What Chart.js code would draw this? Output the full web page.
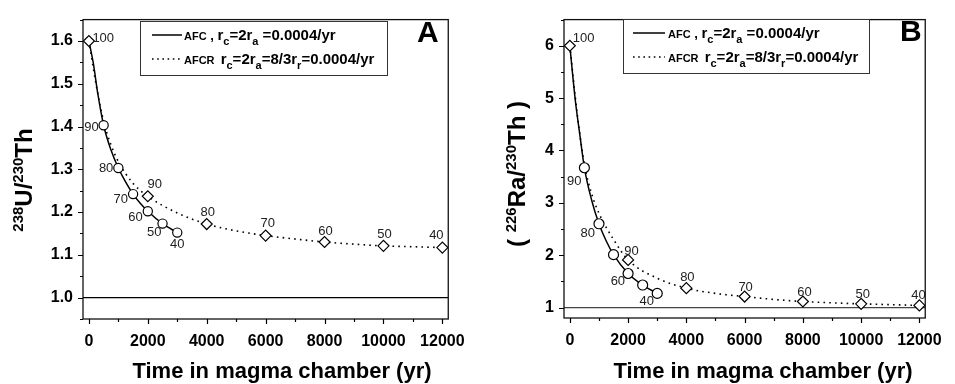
<!DOCTYPE html>
<html><head><meta charset="utf-8">
<script src="https://cdn.jsdelivr.net/npm/chart.js@4.4.0/dist/chart.umd.min.js"></script>
<style>
html,body{margin:0;padding:0;background:#fff;overflow:hidden;}
#wrap{position:relative;width:955px;height:384px;background:#fff;}
canvas{position:absolute;top:0;}
#cA{left:0;} #cB{left:478px;}
</style></head><body>
<div id="wrap"><canvas id="cA" width="478" height="384"></canvas><canvas id="cB" width="477" height="384"></canvas></div>
<script>
// ---------------- data ----------------
const xTicks = [0, 2000, 4000, 6000, 8000, 10000, 12000];
const yTicksA = [1.0, 1.1, 1.2, 1.3, 1.4, 1.5, 1.6];
const yTicksB = [1, 2, 3, 4, 5, 6];

// markers (AFC circles, AFCR diamonds)
const afcTime = [0, 500, 1000, 1500, 2000, 2500, 3000];
const afcU = [1.6, 1.403, 1.303, 1.242, 1.202, 1.173, 1.152];
const afcRa = [6.0, 3.67, 2.60, 2.01, 1.65, 1.43, 1.27];
const afcLabelsA = ['100', '90', '80', '70', '60', '50', '40'];
const afcLabelsB = ['100', '90', '80', '', '60', '', '40'];

const afcrTime = [0, 2000, 4000, 6000, 8000, 10000, 12000];
const afcrU = [1.6, 1.237, 1.172, 1.145, 1.13, 1.121, 1.117];
const afcrRa = [6.0, 1.91, 1.37, 1.21, 1.115, 1.07, 1.04];
const afcrLabels = ['', '90', '80', '70', '60', '50', '40'];

// model curves
const afcCurveTimeA = [0, 150, 300, 500, 750, 1000, 1250, 1500, 1750, 2000, 2500, 3000];
const afcCurveU = [1.6, 1.548, 1.478, 1.403, 1.345, 1.303, 1.27, 1.242, 1.22, 1.202, 1.173, 1.152];
const afcCurveTimeB = [0, 190, 334, 500, 750, 1000, 1250, 1500, 2000, 2500, 3000];
const afcCurveRa = [6.0, 4.95, 4.34, 3.67, 3.05, 2.60, 2.27, 2.01, 1.65, 1.43, 1.27];

const afcrCurveTime = [0, 250, 500, 750, 1000, 1500, 2000, 3000, 4000, 5000, 6000, 7000, 8000, 9000, 10000, 11000, 12000];
const afcrCurveU = [1.6, 1.496, 1.412, 1.357, 1.318, 1.267, 1.237, 1.198, 1.172, 1.156, 1.145, 1.137, 1.13, 1.125, 1.121, 1.119, 1.117];
const afcrCurveRa = [6.0, 4.72, 3.74, 3.17, 2.80, 2.30, 1.91, 1.56, 1.37, 1.27, 1.21, 1.155, 1.115, 1.09, 1.07, 1.055, 1.04];

// reference line (secular equilibrium)
const refTime = [-200, 12200];
const refValue = [1, 1];

// ---------------- styling ----------------
const FONT = "'Liberation Sans', Arial, Helvetica, sans-serif";
const pts = (xs, ys) => xs.map((v, i) => ({x: v, y: ys[i]}));

function drawRich(ctx, x, y, parts) {
  for (const p of parts) {
    ctx.font = `bold ${p.s}px ${FONT}`;
    ctx.fillText(p.t, x, y + (p.dy || 0));
    x += ctx.measureText(p.t).width;
  }
}
function richWidth(ctx, parts) {
  let w = 0;
  for (const p of parts) { ctx.font = `bold ${p.s}px ${FONT}`; w += ctx.measureText(p.t).width; }
  return w;
}

const legendRow1 = [
  {t: 'AFC', s: 11}, {t: ' , ', s: 13}, {t: 'r', s: 15}, {t: 'c', s: 11, dy: 5},
  {t: '=2r', s: 15}, {t: 'a', s: 11, dy: 5}, {t: ' =0.0004/yr', s: 15}
];
const legendRow2 = [
  {t: 'AFCR', s: 11}, {t: '  ', s: 11}, {t: 'r', s: 15}, {t: 'c', s: 11, dy: 5},
  {t: '=2r', s: 15}, {t: 'a', s: 11, dy: 5}, {t: '=8/3r', s: 15}, {t: 'r', s: 11, dy: 5},
  {t: '=0.0004/yr', s: 15}
];

const panelPlugin = {
  id: 'panel',
  afterDatasetsDraw(chart, args, o) {
    const ctx = chart.ctx;
    ctx.save();
    ctx.fillStyle = '#222';
    ctx.font = `13px ${FONT}`;
    ctx.textBaseline = 'middle';
    for (const L of o.labels) {
      const meta = chart.getDatasetMeta(L.ds);
      L.text.forEach((t, i) => {
        if (!t || !L.off[i]) return;
        const el = meta.data[i];
        ctx.textAlign = L.off[i][2];
        ctx.fillText(t, el.x + L.off[i][0], el.y + L.off[i][1]);
      });
    }
    ctx.restore();
  },
  afterDraw(chart, args, o) {
    const {ctx, chartArea: a, scales: {x, y}} = chart;
    ctx.save();
    // frame
    ctx.strokeStyle = '#111'; ctx.lineWidth = 1.3;
    ctx.strokeRect(a.left, a.top, a.right - a.left, a.bottom - a.top);
    // ticks
    ctx.lineWidth = 1.2; ctx.strokeStyle = '#000';
    ctx.beginPath();
    for (let v = 0; v <= 12000; v += 1000) {
      const px = Math.round(x.getPixelForValue(v)) + 0.5;
      const len = v % 2000 === 0 ? 5 : 3;
      ctx.moveTo(px, a.bottom); ctx.lineTo(px, a.bottom + len);
    }
    for (let k = 0; ; k++) {
      const v = o.yMinorStart + k * o.yMinorStep;
      if (v > y.max + 1e-9) break;
      if (v < y.min - 1e-9) continue;
      const py = Math.round(y.getPixelForValue(v)) + 0.5;
      const major = Math.abs(Math.round(v / o.yMajorStep) * o.yMajorStep - v) < 1e-6;
      const len = major ? 5 : 3;
      ctx.moveTo(a.left, py); ctx.lineTo(a.left - len, py);
    }
    ctx.stroke();

    // legend box
    const lg = o.legend;
    ctx.fillStyle = '#fff';
    ctx.fillRect(lg.x, lg.y, lg.w, lg.h);
    ctx.strokeStyle = '#333'; ctx.lineWidth = 1;
    ctx.strokeRect(lg.x + 0.5, lg.y + 0.5, lg.w, lg.h);
    ctx.strokeStyle = '#000'; ctx.lineWidth = 1.5;
    ctx.beginPath(); ctx.moveTo(lg.lx0, lg.r1); ctx.lineTo(lg.lx1, lg.r1); ctx.stroke();
    ctx.setLineDash([1.6, 3.6]);
    ctx.beginPath(); ctx.moveTo(lg.lx0, lg.r2); ctx.lineTo(lg.lx1, lg.r2); ctx.stroke();
    ctx.setLineDash([]);
    ctx.fillStyle = '#000'; ctx.textAlign = 'left'; ctx.textBaseline = 'alphabetic';
    drawRich(ctx, lg.tx, lg.b1, legendRow1);
    drawRich(ctx, lg.tx, lg.b2, legendRow2);

    // panel letter
    ctx.font = `bold 30px ${FONT}`;
    ctx.fillText(o.letter, o.letterX, o.letterY);

    // x title
    ctx.font = `bold 22px ${FONT}`;
    ctx.textAlign = 'center';
    ctx.fillText('Time in magma chamber (yr)', o.xTitleX, 378);

    // y title (rotated, with superscripts)
    ctx.textAlign = 'left';
    const w = richWidth(ctx, o.yTitle);
    ctx.translate(o.yTitleBase, o.yTitleCenter);
    ctx.rotate(-Math.PI / 2);
    drawRich(ctx, -w / 2, 0, o.yTitle);
    ctx.restore();
  }
};

function makeChart(id, cfg) {
  const tickFont = {family: FONT, size: 16, weight: 'bold'};
  return new Chart(document.getElementById(id), {
    type: 'scatter',
    data: {
      datasets: [
        { data: pts(afcrTime, cfg.afcrY), showLine: false, pointStyle: 'rectRot', pointRadius: 5.5,
          pointBackgroundColor: '#fff', pointBorderColor: '#000', pointBorderWidth: 1.2 },
        { data: pts(afcTime, cfg.afcY), showLine: false, pointStyle: 'circle',
          pointRadius: (c) => c.dataIndex === 0 ? 0 : cfg.circleR,
          pointBackgroundColor: '#fff', pointBorderColor: '#000', pointBorderWidth: 1.2 },
        { data: pts(cfg.afcCurveX, cfg.afcCurveY), showLine: true, pointRadius: 0, borderColor: '#000',
          borderWidth: 1.5, cubicInterpolationMode: 'monotone' },
        { data: pts(afcrCurveTime, cfg.afcrCurveY), showLine: true, pointRadius: 0, borderColor: '#000',
          borderWidth: 1.6, borderDash: [1.6, 4.2], cubicInterpolationMode: 'monotone' },
        { data: pts(refTime, refValue), showLine: true, pointRadius: 0, borderColor: cfg.refColor, borderWidth: 1.3 }
      ]
    },
    options: {
      responsive: false, animation: false, events: [],
      layout: {padding: {left: 0, right: cfg.padR, top: 7, bottom: 0}},
      plugins: {
        legend: {display: false}, tooltip: {enabled: false},
        panel: cfg.panel
      },
      scales: {
        x: {
          type: 'linear', min: -200, max: 12200,
          afterBuildTicks: (s) => { s.ticks = xTicks.map(v => ({value: v})); },
          afterFit: (s) => { s.height = cfg.xH; },
          grid: {display: false, drawTicks: false}, border: {display: false},
          ticks: {font: tickFont, color: '#000', padding: 13, maxRotation: 0, autoSkip: false,
                  callback: (v) => String(v)}
        },
        y: {
          type: 'linear', min: cfg.yMin, max: cfg.yMax,
          afterBuildTicks: (s) => { s.ticks = cfg.yTicks.map(v => ({value: v})); },
          afterFit: (s) => { s.width = cfg.yW; },
          grid: {display: false, drawTicks: false}, border: {display: false},
          ticks: {font: tickFont, color: '#000', padding: 10, autoSkip: false,
                  callback: (v) => cfg.fmt(v)}
        }
      }
    },
    plugins: [panelPlugin]
  });
}

makeChart('cA', {
  afcY: afcU, afcrY: afcrU, afcCurveX: afcCurveTimeA, afcCurveY: afcCurveU, afcrCurveY: afcrCurveU,
  yMin: 0.95, yMax: 1.65, yTicks: yTicksA, fmt: (v) => v.toFixed(1),
  yW: 83, xH: 65, padR: 24, circleR: 4.6, refColor: '#000',
  panel: {
    yMinorStart: 0.95, yMinorStep: 0.05, yMajorStep: 0.1,
    letter: 'A', letterX: 417, letterY: 42, xTitleX: 282,
    yTitle: [{t: '238', s: 15, dy: -9}, {t: 'U/', s: 24}, {t: '230', s: 15, dy: -9}, {t: 'Th', s: 24}],
    yTitleBase: 32, yTitleCenter: 180,
    legend: {x: 140, y: 21, w: 247, h: 54, lx0: 152, lx1: 182, r1: 35, r2: 59, tx: 184, b1: 40, b2: 64},
    labels: [
      {ds: 1, text: afcLabelsA, off: [[3.5, -3, 'left'], [-5, 2, 'right'], [-5, 0, 'right'], [-5, 5, 'right'],
                                     [-5, 6, 'right'], [-1, 9, 'right'], [0, 12, 'center']]},
      {ds: 0, text: afcrLabels, off: [null, [7, -11.5, 'center'], [1, -12, 'center'], [2, -12, 'center'],
                                      [1, -11, 'center'], [1, -11, 'center'], [-6, -12, 'center']]}
    ]
  }
});

makeChart('cB', {
  afcY: afcRa, afcrY: afcrRa, afcCurveX: afcCurveTimeB, afcCurveY: afcCurveRa, afcrCurveY: afcrCurveRa,
  yMin: 0.8, yMax: 6.5, yTicks: yTicksB, fmt: (v) => String(v),
  yW: 86, xH: 66, padR: 21, circleR: 5, refColor: '#444',
  panel: {
    yMinorStart: 0.5, yMinorStep: 0.5, yMajorStep: 1,
    letter: 'B', letterX: 422, letterY: 41, xTitleX: 285,
    yTitle: [{t: '( ', s: 24}, {t: '226', s: 15, dy: -9}, {t: 'Ra/', s: 24}, {t: '230', s: 15, dy: -9},
             {t: 'Th', s: 24}, {t: ' )', s: 24}],
    yTitleBase: 47, yTitleCenter: 174,
    legend: {x: 145, y: 19, w: 246, h: 54, lx0: 155, lx1: 187, r1: 33, r2: 57, tx: 190, b1: 38, b2: 62},
    labels: [
      {ds: 1, text: afcLabelsB, off: [[3, -7.6, 'left'], [-3, 14, 'right'], [-4, 10, 'right'], null,
                                     [-3, 8, 'right'], null, [-10.5, 8, 'center']]},
      {ds: 0, text: afcrLabels, off: [null, [3.5, -8, 'center'], [1, -10.6, 'center'], [1, -9, 'center'],
                                      [1.5, -9, 'center'], [1.5, -9, 'center'], [-1, -10, 'center']]}
    ]
  }
});
</script>
</body></html>
